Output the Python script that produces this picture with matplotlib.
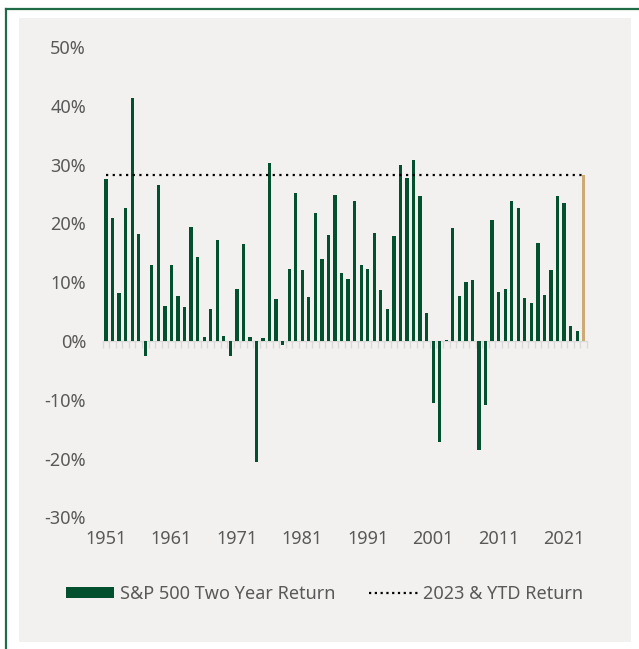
import matplotlib
matplotlib.use("Agg")
import matplotlib.pyplot as plt
from matplotlib.lines import Line2D
from matplotlib.patches import Rectangle, Patch
import numpy as np

# ---- data ----
years = list(range(1951, 2024))  # 1951..2023 two-year returns
two_year_return = [
    27.5, 20.9, 8.1, 22.7, 41.3, 18.2, -2.5, 13.0, 26.5, 6.0,
    12.9, 7.6, 5.8, 19.4, 14.3, 0.6, 5.5, 17.1, 0.8, -2.5,
    8.8, 16.5, 0.7, -20.6, 0.5, 30.2, 7.1, -0.6, 12.2, 25.1,
    12.1, 7.4, 21.8, 13.9, 18.1, 24.8, 11.6, 10.6, 23.8, 12.9,
    12.3, 18.3, 8.7, 5.5, 17.9, 29.9, 27.8, 30.7, 24.6, 4.8,
    -10.5, -17.2, 0.1, 19.3, 7.7, 10.1, 10.4, -18.5, -10.8, 20.5,
    8.3, 8.8, 23.8, 22.6, 7.3, 6.4, 16.7, 7.9, 12.0, 24.7,
    23.4, 2.6, 1.7,
]
ytd_year = 2024
ytd_return = 28.3
tick_labels = ["1951", "1961", "1971", "1981", "1991", "2001", "2011", "2021"]
yticks = [-30, -20, -10, 0, 10, 20, 30, 40, 50]

GREEN = "#03502e"
TAN = "#cdab75"
PANEL = "#f2f1ef"
TEXT = "#595959"
BORDER = "#1f6b47"
FS = 13

plt.rcParams["font.family"] = ["Noto Sans", "DejaVu Sans"]

W, H = 639, 649
fig = plt.figure(figsize=(W / 100, H / 100), dpi=100)
fig.patch.set_facecolor("white")

# panel + border
fig.patches.append(Rectangle((19 / W, 1 - 642 / H), (631 - 19) / W, (642 - 18) / H,
                             transform=fig.transFigure, facecolor=PANEL,
                             edgecolor="none", zorder=-10))
fig.lines.append(Line2D([6 / W, 6 / W], [0, 1 - 9 / H], transform=fig.transFigure,
                        color=BORDER, lw=1.6))
fig.lines.append(Line2D([6 / W, 1], [1 - 9 / H, 1 - 9 / H], transform=fig.transFigure,
                        color=BORDER, lw=1.6))

left = 102.7 / W
right = 587.0 / W
top = 47.0 / H
bottom = 517.4 / H
ax = fig.add_axes([left, 1 - bottom, right - left, bottom - top])
ax.patch.set_visible(False)

all_years = years + [ytd_year]
n = len(all_years)
xpos = np.arange(n)

ax.bar(xpos[:-1], two_year_return, width=0.5, color=GREEN, zorder=2)
ax.bar(xpos[-1], ytd_return, width=0.5, color=TAN, zorder=2)
ax.plot([xpos[0], xpos[-1]], [ytd_return, ytd_return], color="black",
        lw=1.6, linestyle=(0, (1, 2)), zorder=3)

ax.set_xlim(-0.5, n - 0.5)
ax.set_ylim(-30, 50)
ax.set_yticks(yticks)
ax.set_yticklabels([f"{v}%" for v in yticks], color=TEXT, fontsize=FS)
lab_pos = [all_years.index(int(t)) for t in tick_labels]
ax.set_xticks(lab_pos)
ax.set_xticklabels(tick_labels, color=TEXT, fontsize=FS)
ax.tick_params(axis="both", length=0)
ax.tick_params(axis="y", pad=12)
ax.tick_params(axis="x", pad=9)
for s in ax.spines.values():
    s.set_visible(False)

# zero axis with category boundary ticks
sec = ax.secondary_xaxis(30 / 80)
sec.set_xticks(np.arange(n + 1) - 0.5)
sec.set_xticklabels([])
sec.tick_params(axis="x", direction="out", length=5, width=1, color="#d9d9d9")
sec.spines["bottom"].set_color("#d9d9d9")
sec.spines["bottom"].set_linewidth(1)
for k in ("top", "left", "right"):
    if k in sec.spines:
        sec.spines[k].set_visible(False)

handles = [Patch(facecolor=GREEN, edgecolor="none"),
           Line2D([0], [0], color="black", lw=1.6, linestyle=(0, (1, 1.6)))]
leg = fig.legend(handles, ["S&P 500 Two Year Return", "2023 & YTD Return"],
                 loc="center", bbox_to_anchor=(324.5 / W, 1 - 594 / H), ncol=2,
                 frameon=False, fontsize=FS, handlelength=2.7, handleheight=0.55,
                 handletextpad=0.28, columnspacing=1.9)
for t in leg.get_texts():
    t.set_color(TEXT)

fig.savefig("out.png", dpi=100, facecolor="white")
